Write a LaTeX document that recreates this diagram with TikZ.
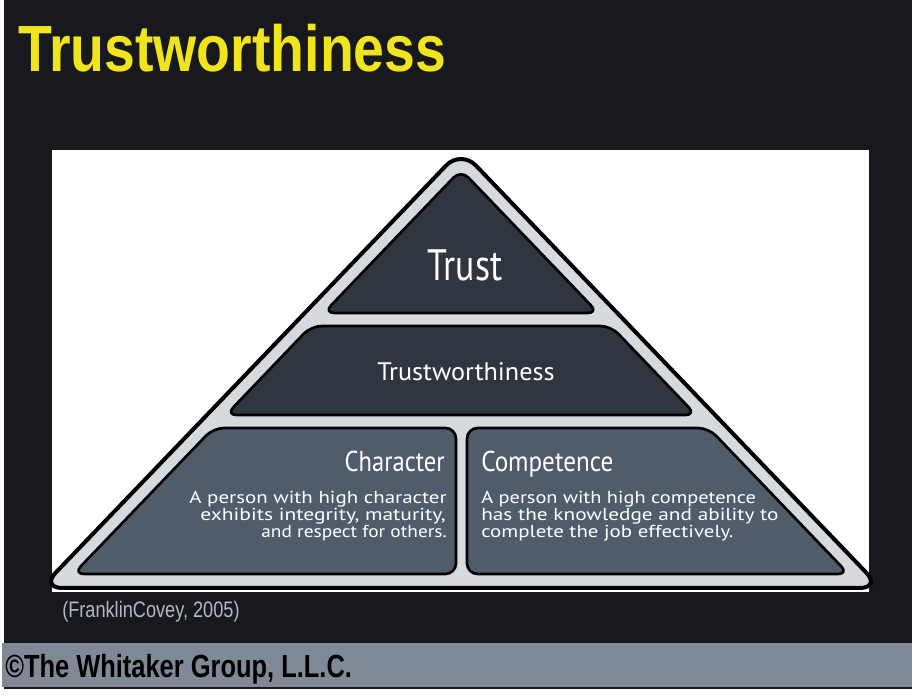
\documentclass[tikz,border=0pt]{standalone}
\usepackage{fontspec}
\setmainfont{Liberation Sans}
\newfontfamily\pyr{PT Sans}
\newcommand{\fitw}[2]{\resizebox{#1}{\height}{#2}}
\definecolor{bgdark}{HTML}{17191E}
\definecolor{barcol}{HTML}{808A96}
\definecolor{titley}{HTML}{F0E41C}
\definecolor{topfill}{HTML}{30363F}
\definecolor{botfill}{HTML}{515C6B}
\definecolor{band}{HTML}{D6DADF}
\definecolor{srcgray}{HTML}{B4B8C0}
\tikzset{
  outerpyr/.style={fill=band, draw=black, line width=3pt, rounded corners=16pt, line join=round},
  tierbox/.style={draw=black, line width=2pt, rounded corners=8pt, line join=round},
  lbl/.style={inner sep=0pt, text=white, font=\pyr},
}
\begin{document}
\begin{tikzpicture}[x=0.75pt,y=-0.75pt]
\useasboundingbox (0,0) rectangle (915,698);
\fill[white] (0,0) rectangle (915,698);
\fill[bgdark] (4,0) rectangle (912,689);
\fill[barcol] (2,643) rectangle (912,687);
\fill[white] (52,150) rectangle (869,592);
% title
\node[inner sep=0pt, anchor=base west, text=titley, font=\fontsize{49}{49}\selectfont\bfseries] (title) at (18,72) {\fitw{321pt}{Trustworthiness}};
% outer pyramid
\draw[outerpyr] (461,150) -- (881,588) -- (41,588) -- cycle;
% tiers
\draw[tierbox, fill=topfill] (461,169.8) -- (598.3,313) -- (323.7,313) -- cycle;
\draw[tierbox, fill=topfill] (311.2,326) -- (610.8,326) -- (696.1,415) -- (225.9,415) -- cycle;
\draw[tierbox, fill=botfill] (213.4,428) -- (456,428) -- (456,574) -- (73.4,574) -- cycle;
\draw[tierbox, fill=botfill] (467,428) -- (708.6,428) -- (848.6,574) -- (467,574) -- cycle;
% labels
\node[lbl, anchor=base, font=\pyr\fontsize{33}{33}\selectfont] (trust) at (465,281) {\fitw{56pt}{Trust}};
\node[lbl, anchor=base, font=\pyr\fontsize{19}{19}\selectfont] (tw) at (466,381) {\fitw{133pt}{Trustworthiness}};
\node[lbl, anchor=base east, font=\pyr\fontsize{21.5}{21.5}\selectfont] (char) at (445,472) {\fitw{75pt}{Character}};
\node[lbl, anchor=base west, font=\pyr\fontsize{21.5}{21.5}\selectfont] (comp) at (481,472) {\fitw{99pt}{Competence}};
\node[lbl, anchor=base east, font=\pyr\fontsize{13}{13}\selectfont] (c1) at (447,504) {\fitw{193pt}{A person with high character}};
\node[lbl, anchor=base east, font=\pyr\fontsize{13}{13}\selectfont] (c2) at (446,521) {\fitw{184pt}{exhibits integrity, maturity,}};
\node[lbl, anchor=base east, font=\pyr\fontsize{13}{13}\selectfont] (c3) at (447,538) {\fitw{139pt}{and respect for others.}};
\node[lbl, anchor=base west, font=\pyr\fontsize{13}{13}\selectfont] (p1) at (481,504) {\fitw{206pt}{A person with high competence}};
\node[lbl, anchor=base west, font=\pyr\fontsize{13}{13}\selectfont] (p2) at (481,521) {\fitw{223pt}{has the knowledge and ability to}};
\node[lbl, anchor=base west, font=\pyr\fontsize{13}{13}\selectfont] (p3) at (481,538) {\fitw{189pt}{complete the job effectively.}};
% source
\node[inner sep=0pt, anchor=base west, text=srcgray, font=\fontsize{16.8}{16.8}\selectfont] (src) at (62,618) {\fitw{133pt}{(FranklinCovey, 2005)}};
% footer
\node[inner sep=0pt, anchor=base west, text=black, font=\fontsize{24}{24}\selectfont\bfseries] (foot) at (5,677) {\fitw{260pt}{©The Whitaker Group, L.L.C.}};
\end{tikzpicture}
\end{document}
